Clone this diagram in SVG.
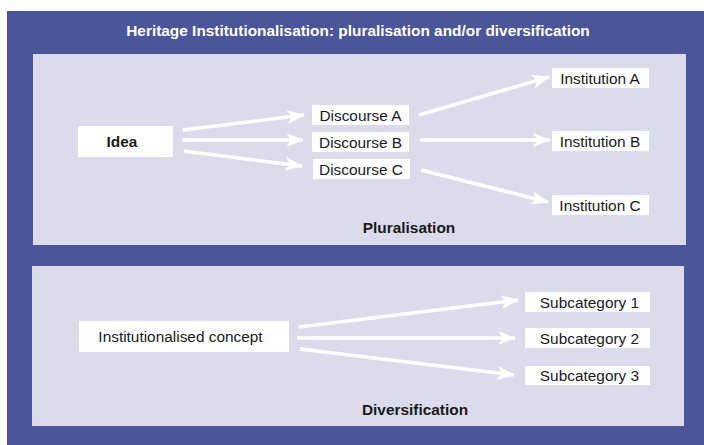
<svg xmlns="http://www.w3.org/2000/svg" width="704" height="445" viewBox="0 0 704 445">
<defs>
<marker id="ah" markerUnits="userSpaceOnUse" markerWidth="19" markerHeight="15" refX="17" refY="7" orient="auto">
<path d="M0,0 L18,7 L0,14 L5,7 z" fill="#fff"/>
</marker>
<style>
.box{fill:#fff}
.t{font-family:"Liberation Sans",Arial,sans-serif;font-size:15.4px;fill:#1a1a1a;text-anchor:middle}
.b{font-weight:bold}
.title{font-family:"Liberation Sans",Arial,sans-serif;font-size:15.4px;font-weight:bold;fill:#fff;text-anchor:middle}
.c{stroke:#fff;stroke-width:3.5;fill:none;marker-end:url(#ah)}
</style>
</defs>
<rect x="0" y="0" width="704" height="445" fill="#fff"/>
<rect x="7" y="11" width="697" height="434" fill="#4b5599"/>
<text class="title" x="358" y="36">Heritage Institutionalisation: pluralisation and/or diversification</text>
<rect x="33" y="54" width="653" height="191" fill="#dcdbeb"/>
<rect x="32" y="266" width="652" height="160" fill="#dcdbeb"/>
<text class="t b" x="409" y="233">Pluralisation</text>
<text class="t b" x="415" y="415">Diversification</text>
<g id="connectors">
<line class="c" x1="183" y1="130" x2="304" y2="115"/>
<line class="c" x1="182" y1="140" x2="303" y2="140"/>
<line class="c" x1="184" y1="151" x2="302" y2="166"/>
<line class="c" x1="419" y1="115" x2="549" y2="77"/>
<line class="c" x1="420" y1="140" x2="550" y2="140"/>
<line class="c" x1="421" y1="170" x2="548" y2="202"/>
<line class="c" x1="299" y1="327" x2="518" y2="300"/>
<line class="c" x1="297" y1="338" x2="515" y2="338"/>
<line class="c" x1="300" y1="349" x2="514" y2="375"/>
</g>
<g id="idea"><rect class="box" x="78" y="126" width="95" height="31"/><text class="t b" x="122" y="146.5">Idea</text></g>
<g id="discourseA"><rect class="box" x="312" y="105" width="97" height="20"/><text class="t" x="360.5" y="121">Discourse A</text></g>
<g id="discourseB"><rect class="box" x="312" y="132" width="97" height="20"/><text class="t" x="360.5" y="147.5">Discourse B</text></g>
<g id="discourseC"><rect class="box" x="313" y="159" width="97" height="20"/><text class="t" x="361" y="174.5">Discourse C</text></g>
<g id="institutionA"><rect class="box" x="552" y="68" width="97" height="20"/><text class="t" x="600" y="83.5">Institution A</text></g>
<g id="institutionB"><rect class="box" x="552" y="131" width="97" height="20"/><text class="t" x="600" y="146.5">Institution B</text></g>
<g id="institutionC"><rect class="box" x="552" y="195" width="97" height="20"/><text class="t" x="600" y="210.5">Institution C</text></g>
<g id="concept"><rect class="box" x="79" y="321" width="210" height="31"/><text class="t" x="180.5" y="341.5">Institutionalised concept</text></g>
<g id="sub1"><rect class="box" x="525" y="292" width="125" height="20"/><text class="t" x="589.5" y="307.5">Subcategory 1</text></g>
<g id="sub2"><rect class="box" x="525" y="328" width="125" height="20"/><text class="t" x="589.5" y="343.5">Subcategory 2</text></g>
<g id="sub3"><rect class="box" x="525" y="366" width="125" height="19"/><text class="t" x="589.5" y="381">Subcategory 3</text></g>
</svg>
